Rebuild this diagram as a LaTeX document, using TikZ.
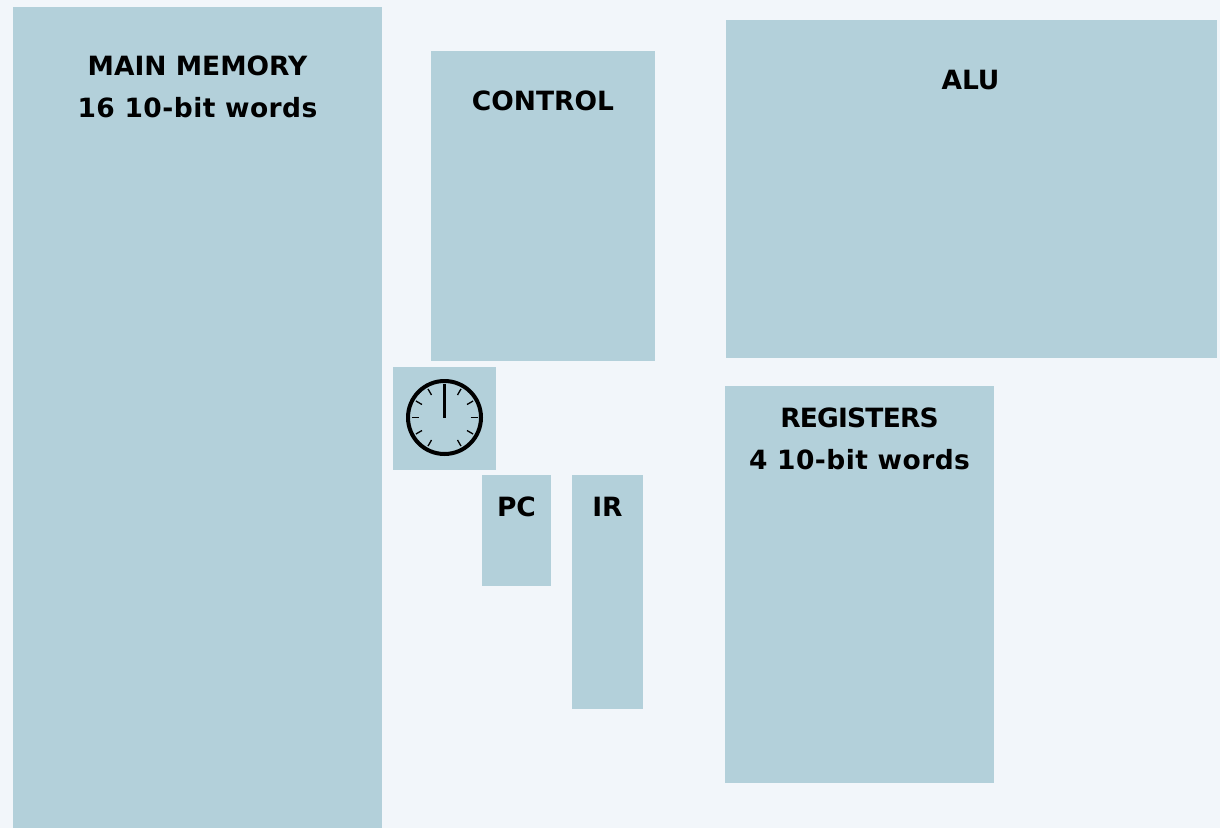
\documentclass[tikz,border=0pt]{standalone}
\usepackage{fontspec}
\usetikzlibrary{calc}
\setmainfont{DejaVu Sans}
\definecolor{bgc}{HTML}{F2F6FA}
\definecolor{boxc}{HTML}{B3D0DA}
\tikzset{
  unit/.style={fill=boxc,draw=none,inner sep=0pt,outer sep=0pt,anchor=north west},
  lbl/.style={font=\bfseries\fontsize{26.5}{30}\selectfont,text=black,inner sep=0pt,anchor=base}
}
\begin{document}
\begin{tikzpicture}[x=1pt,y=-1pt]
\useasboundingbox (0,0) rectangle (1220,828);
\fill[bgc] (0,0) rectangle (1220,828);
\node[unit,minimum width=369pt,minimum height=821pt] (mem) at (13,7) {};
\node[unit,minimum width=224pt,minimum height=310pt] (ctl) at (431,51) {};
\node[unit,minimum width=491pt,minimum height=338pt] (alu) at (726,20) {};
\node[unit,minimum width=269pt,minimum height=397pt] (reg) at (725,386) {};
\node[unit,minimum width=69pt,minimum height=111pt] (pc) at (482,475) {};
\node[unit,minimum width=71pt,minimum height=234pt] (ir) at (572,475) {};
\node[unit,minimum width=103pt,minimum height=103pt] (clk) at (393,367) {};
\node[lbl] (memA) at (197.5,75.5) {MAIN MEMORY};
\node[lbl] (memB) at (197.5,117.5) {\addfontfeatures{LetterSpace=1.7}16 10-bit words};
\node[lbl] (ctlA) at (543,110.5) {CONTROL};
\node[lbl] (aluA) at (970.5,89.5) {ALU};
\node[lbl] (regA) at (859.5,427.5) {\addfontfeatures{LetterSpace=-3}REGISTERS};
\node[lbl] (regB) at (859.5,469.5) {\addfontfeatures{LetterSpace=1.7}4 10-bit words};
\node[lbl] (pcA) at (516.5,516.5) {PC};
\node[lbl] (irA) at (607.5,516.5) {IR};
\coordinate (c) at (444.5,417.5);
\draw[black,line width=4pt] (c) circle (36.5pt);
\draw[black,line width=2.6pt] (c) -- ++(0,-34);
\foreach \a in {30,60,...,330}{
  \draw[black,line width=1.3pt] ($(c)+(\a-90:26pt)$) -- ($(c)+(\a-90:33pt)$);
}
\end{tikzpicture}
\end{document}
